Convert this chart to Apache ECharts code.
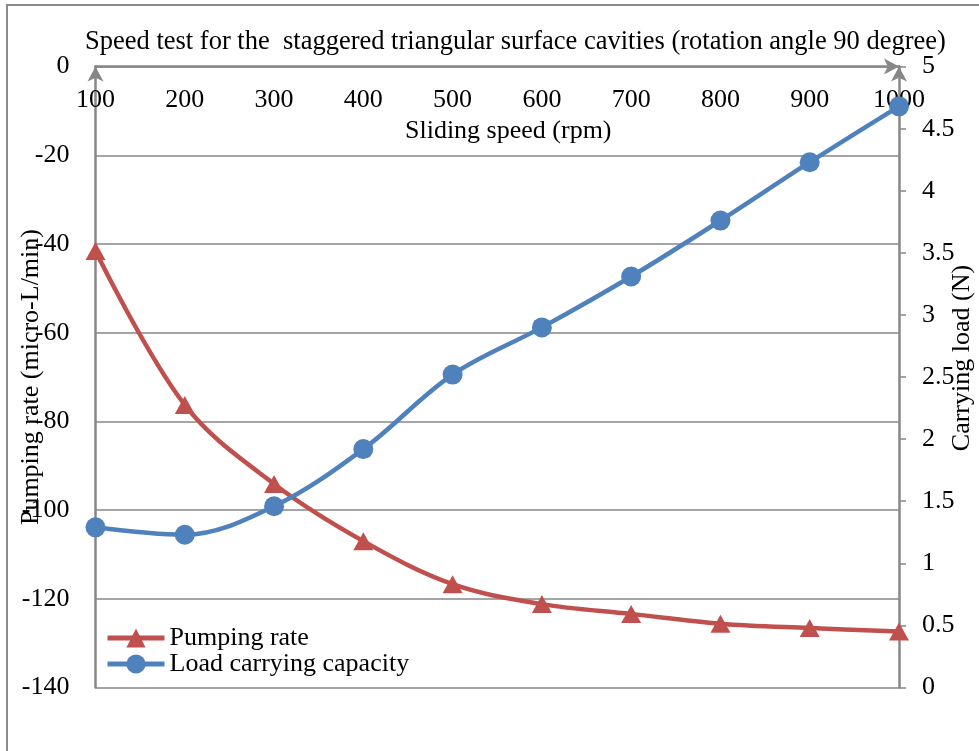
<!DOCTYPE html>
<html>
<head>
<meta charset="utf-8">
<script src="https://cdn.jsdelivr.net/npm/echarts@6/dist/echarts.min.js"></script>
<style>html,body{margin:0;padding:0;background:#fff;}#c{width:979px;height:751px;}</style>
</head>
<body>
<div id="c"></div>
<script>
// ---- data ----
var speeds = ['100','200','300','400','500','600','700','800','900','1000'];
var pumpingRate = [-41.6, -76.3, -94.1, -107.0, -116.7, -121.2, -123.4, -125.6, -126.6, -127.4];
var loadCapacity = [1.29, 1.23, 1.46, 1.92, 2.52, 2.90, 3.31, 3.76, 4.23, 4.68];
var titleText = 'Speed test for the  staggered triangular surface cavities (rotation angle 90 degree)';
var xName = 'Sliding speed (rpm)';
var leftName = 'Pumping rate (micro-L/min)';
var rightName = 'Carrying load (N)';
var seriesNames = ['Pumping rate', 'Load carrying capacity'];

var FONT = 'Liberation Serif';
var FS = 26;
var AXIS = '#878787';

var chart = echarts.init(document.getElementById('c'), null, {renderer: 'canvas'});
chart.setOption({
  animation: false,
  backgroundColor: '#ffffff',
  textStyle: {fontFamily: FONT, color: '#000'},
  graphic: [{
    type: 'rect', z: -1,
    shape: {x: 7, y: 5, width: 1000, height: 800},
    style: {fill: 'none', stroke: '#8a8a8a', lineWidth: 2}
  }],
  title: {
    text: titleText, left: 85, top: 29, padding: 0,
    textStyle: {fontFamily: FONT, fontSize: 26.5, fontWeight: 'normal', color: '#000'}
  },
  legend: {
    orient: 'vertical', left: 105, top: 625, padding: 0,
    itemWidth: 57, itemHeight: 24, itemGap: 0,
    lineStyle: {width: 5},
    textStyle: {fontFamily: FONT, fontSize: FS, color: '#000', lineHeight: 22},
    data: seriesNames
  },
  grid: {left: 95.5, right: 80, top: 66.6, bottom: 63.5, containLabel: false, outerBoundsMode: 'none'},
  xAxis: {
    type: 'category', data: speeds, boundaryGap: false, position: 'top',
    name: xName, nameLocation: 'middle', nameGap: -65, nameMoveOverlap: false,
    nameTextStyle: {fontFamily: FONT, fontSize: FS, color: '#000', verticalAlign: 'middle', padding: [0,0,0,22]},
    axisLine: {onZero: false, lineStyle: {color: AXIS, width: 2.5}, symbol: ['none','arrow'], symbolSize: [12, 15]},
    axisTick: {show: false},
    axisLabel: {inside: true, margin: 21, fontFamily: FONT, fontSize: FS, color: '#000'},
    splitLine: {show: false}
  },
  yAxis: [{
    type: 'value', min: -140, max: 0, interval: 20, position: 'left',
    name: leftName, nameLocation: 'middle', nameGap: 51, nameRotate: 90, nameMoveOverlap: false,
    nameTextStyle: {fontFamily: FONT, fontSize: FS, color: '#000'},
    axisLine: {show: true, lineStyle: {color: AXIS, width: 2.5}, symbol: ['none','arrow'], symbolSize: [12, 15]},
    axisTick: {show: false},
    axisLabel: {margin: 26, fontFamily: FONT, fontSize: FS, color: '#000'},
    splitLine: {show: true, lineStyle: {color: AXIS, width: 1.5}}
  }, {
    type: 'value', min: 0, max: 5, interval: 0.5, position: 'right',
    name: rightName, nameLocation: 'middle', nameGap: 50, nameRotate: 90, nameMoveOverlap: false,
    nameTextStyle: {fontFamily: FONT, fontSize: FS, color: '#000', padding: [0,0,0,38]},
    axisLine: {show: true, lineStyle: {color: AXIS, width: 2.5}, symbol: ['none','arrow'], symbolSize: [12, 15]},
    axisTick: {show: true, length: 7, inside: false, lineStyle: {color: AXIS, width: 1.5}},
    axisLabel: {margin: 23, fontFamily: FONT, fontSize: FS, color: '#000'},
    splitLine: {show: false}
  }],
  series: [{
    name: seriesNames[0], type: 'line', yAxisIndex: 0, data: pumpingRate,
    smooth: 0.35, symbol: 'triangle', symbolSize: [20, 18],
    lineStyle: {color: '#C0504D', width: 4.5},
    itemStyle: {color: '#C0504D'}
  }, {
    name: seriesNames[1], type: 'line', yAxisIndex: 1, data: loadCapacity,
    smooth: 0.35, symbol: 'circle', symbolSize: 20,
    lineStyle: {color: '#4F81BD', width: 4.5},
    itemStyle: {color: '#4F81BD'}
  }]
});
</script>
</body>
</html>
